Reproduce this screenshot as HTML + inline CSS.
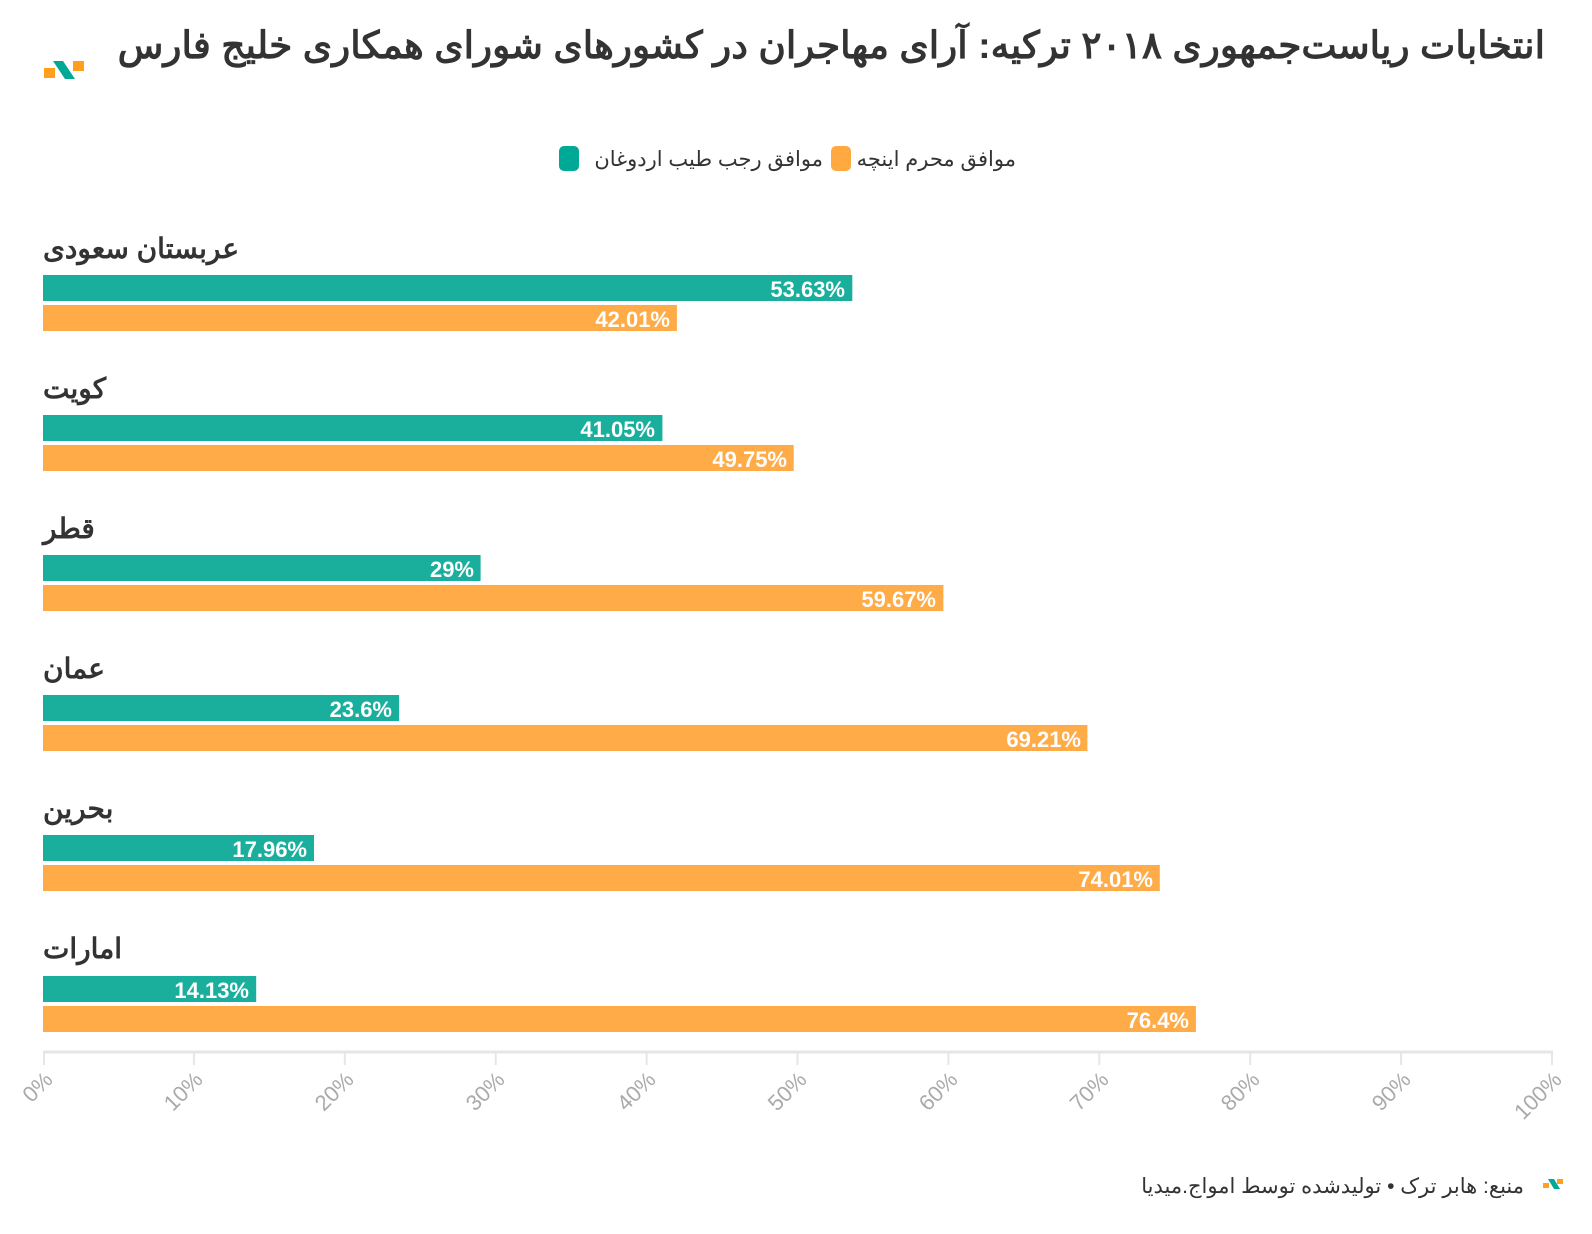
<!DOCTYPE html>
<html><head><meta charset="utf-8"><style>
html,body{margin:0;padding:0;background:#fff;}
svg{display:block;font-family:"Liberation Sans","Noto Sans CJK SC",sans-serif;}
</style></head><body>
<svg width="1592" height="1234" viewBox="0 0 1592 1234" xmlns="http://www.w3.org/2000/svg">
<!-- logo -->
<rect x="44" y="68" width="11" height="10" fill="#ff9f1c"/>
<rect x="73" y="61" width="11" height="10" fill="#ff9f1c"/>
<path d="M53 61 L63 61 L75 79 L65 79 Z" fill="#00a896"/>
<text x="1545" y="58" direction="rtl" font-size="37.5" font-weight="bold" fill="#333">انتخابات ریاست‌جمهوری ۲۰۱۸ ترکیه: آرای مهاجران در کشورهای شورای همکاری خلیج فارس</text>
<!-- legend -->
<rect x="831" y="146" width="20" height="25" rx="5" fill="#ffa940"/>
<text x="1016" y="166" direction="rtl" font-size="21" fill="#333">موافق محرم اینچه</text>
<rect x="559" y="146" width="20" height="25" rx="5" fill="#00a896"/>
<text x="823" y="166" direction="rtl" font-size="21" fill="#333">موافق رجب طیب اردوغان</text>
<g font-size="28" font-weight="bold" fill="#333" direction="rtl" text-anchor="end">
<text x="43" y="258">عربستان سعودی</text>
<text x="43" y="398">کویت</text>
<text x="43" y="538">قطر</text>
<text x="43" y="678">عمان</text>
<text x="43" y="818">بحرین</text>
<text x="43" y="958">امارات</text>
</g>
<g>
<rect x="43" y="275" width="809.3" height="26" fill="#1aaf9d"/>
<rect x="43" y="305" width="633.9" height="26" fill="#ffab48"/>
<rect x="43" y="415" width="619.4" height="26" fill="#1aaf9d"/>
<rect x="43" y="445" width="750.7" height="26" fill="#ffab48"/>
<rect x="43" y="555" width="437.6" height="26" fill="#1aaf9d"/>
<rect x="43" y="585" width="900.4" height="26" fill="#ffab48"/>
<rect x="43" y="695" width="356.1" height="26" fill="#1aaf9d"/>
<rect x="43" y="725" width="1044.4" height="26" fill="#ffab48"/>
<rect x="43" y="835" width="271" height="26" fill="#1aaf9d"/>
<rect x="43" y="865" width="1116.8" height="26" fill="#ffab48"/>
<rect x="43" y="976" width="213.2" height="26" fill="#1aaf9d"/>
<rect x="43" y="1006" width="1152.9" height="26" fill="#ffab48"/>
</g>
<g font-size="22" font-weight="bold" fill="#fff" text-anchor="end">
<text x="845" y="297">53.63%</text>
<text x="670" y="327">42.01%</text>
<text x="655" y="437">41.05%</text>
<text x="787" y="467">49.75%</text>
<text x="474" y="577">29%</text>
<text x="936" y="607">59.67%</text>
<text x="392" y="717">23.6%</text>
<text x="1081" y="747">69.21%</text>
<text x="307" y="857">17.96%</text>
<text x="1153" y="887">74.01%</text>
<text x="249" y="998">14.13%</text>
<text x="1189" y="1028">76.4%</text>
</g>
<!-- axis -->
<line x1="43" y1="1052" x2="1553" y2="1052" stroke="#e6e6e6" stroke-width="3"/>
<g stroke="#e6e6e6" stroke-width="2">
<line x1="44" y1="1052" x2="44" y2="1065"/><line x1="193.9" y1="1052" x2="193.9" y2="1065"/>
<line x1="344.8" y1="1052" x2="344.8" y2="1065"/><line x1="495.7" y1="1052" x2="495.7" y2="1065"/>
<line x1="646.6" y1="1052" x2="646.6" y2="1065"/><line x1="797.5" y1="1052" x2="797.5" y2="1065"/>
<line x1="948.4" y1="1052" x2="948.4" y2="1065"/><line x1="1099.3" y1="1052" x2="1099.3" y2="1065"/>
<line x1="1250.2" y1="1052" x2="1250.2" y2="1065"/><line x1="1401.1" y1="1052" x2="1401.1" y2="1065"/>
<line x1="1552" y1="1052" x2="1552" y2="1065"/>
</g>
<g font-size="22" fill="#aaa" text-anchor="end">
<text transform="translate(54,1081) rotate(-45)">0%</text>
<text transform="translate(204,1081) rotate(-45)">10%</text>
<text transform="translate(355,1081) rotate(-45)">20%</text>
<text transform="translate(506,1081) rotate(-45)">30%</text>
<text transform="translate(657,1081) rotate(-45)">40%</text>
<text transform="translate(808,1081) rotate(-45)">50%</text>
<text transform="translate(959,1081) rotate(-45)">60%</text>
<text transform="translate(1110,1081) rotate(-45)">70%</text>
<text transform="translate(1261,1081) rotate(-45)">80%</text>
<text transform="translate(1412,1081) rotate(-45)">90%</text>
<text transform="translate(1563,1081) rotate(-45)">100%</text>
</g>
<!-- footer -->
<rect x="1543" y="1183" width="6" height="5" fill="#ff9f1c"/>
<rect x="1557" y="1179" width="6" height="5" fill="#ff9f1c"/>
<path d="M1548 1179 L1554 1179 L1560 1189 L1554 1189 Z" fill="#00a896"/>
<text x="1524" y="1193" direction="rtl" font-size="21" fill="#333">منبع: هابر ترک • تولیدشده توسط امواج.میدیا</text>
</svg>
</body></html>
